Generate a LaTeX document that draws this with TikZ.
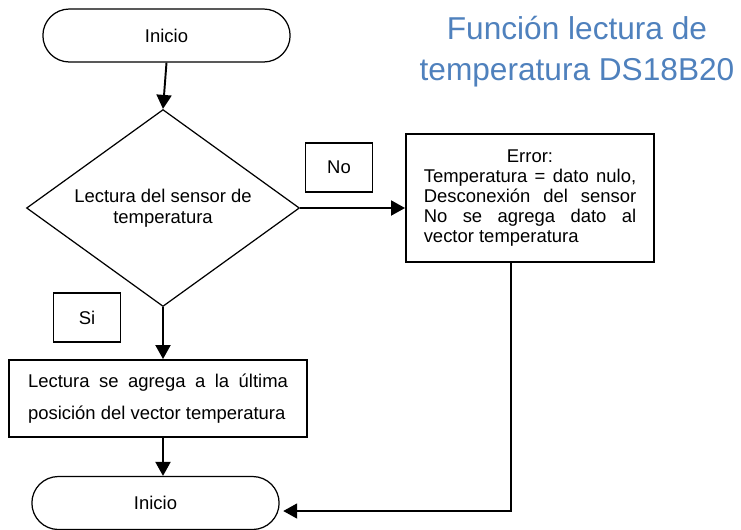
\documentclass[tikz,border=0pt]{standalone}
\usepackage{fontspec}
\setmainfont{Liberation Sans}
\usetikzlibrary{positioning, arrows.meta, shapes.geometric, shapes.misc}
\definecolor{titleblue}{RGB}{79,129,189}
\tikzset{
  term/.style = {draw, rounded rectangle, minimum width=5.18cm, minimum height=1.06cm,
                 line width=0.7pt, font=\fontsize{10.5}{12}\selectfont},
  cond/.style = {draw, diamond, aspect=1.39, minimum width=5.46cm, minimum height=3.94cm,
                 inner sep=0pt, line width=0.7pt, align=center,
                 font=\fontsize{10.5}{12}\selectfont},
  blk/.style  = {draw, rectangle, line width=1.1pt, inner sep=0pt},
  tag/.style  = {draw, rectangle, line width=1.1pt, minimum width=1.34cm,
                 minimum height=0.98cm, font=\fontsize{10.5}{12}\selectfont},
  ar/.style   = {-{Triangle[length=2.8mm, width=3mm]}, line width=1.1pt},
}
\begin{document}
\begin{tikzpicture}[x=0.02cm, y=-0.02cm]
  \useasboundingbox (0,0) rectangle (741,529);
  \node[font=\fontsize{18}{23.3}\selectfont, text=titleblue, align=center] (ttl) at (577,52)
    {Función lectura de\\temperatura DS18B20};
  \node[term] (ini) at (166.5,35.5) {Inicio};
  \node[cond] (dec) at (163,208) {Lectura del sensor de\\temperatura};
  \node[tag] (no) at (339,167.5) {No};
  \node[tag] (si) at (87,317.5) {Si};
  \node[blk, minimum width=4.96cm, minimum height=2.56cm, text width=4.25cm, align=justify,
        font=\fontsize{10.5}{11.4}\selectfont] (err) at (530,198)
    {\makebox[\linewidth]{Error:}\\
     Temperatura = dato nulo,\linebreak
     Desconexión del sensor\linebreak
     No se agrega dato al\linebreak
     vector temperatura};
  \node[blk, minimum width=5.96cm, minimum height=1.54cm, text width=5.2cm, align=justify,
        font=\fontsize{10.5}{18.2}\selectfont] (proc) at (158,398.5)
    {Lectura se agrega a la última\linebreak posición del vector temperatura};
  \node[term] (fin) at (155.5,503) {Inicio};
  % connectors
  \draw[ar] (ini.south) -- (dec.north);
  \draw[ar] (dec.east) -- (dec.east -| err.west);
  \draw[ar] (dec.south) -- (dec.south |- proc.north);
  \draw[ar] (dec.south |- proc.south) -- (dec.south |- fin.north);
  \coordinate (bend) at (511,511);
  \draw[ar, shorten >=2pt] (bend |- err.south) -- (bend) -- (bend -| fin.east);
\end{tikzpicture}
\end{document}
